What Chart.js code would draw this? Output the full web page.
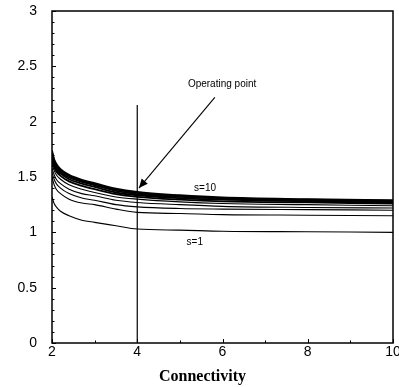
<!DOCTYPE html>
<html>
<head>
<meta charset="utf-8">
<script src="https://cdn.jsdelivr.net/npm/chart.js@4/dist/chart.umd.min.js"></script>
<style>
    html, body { margin: 0; padding: 0; background: #fff; overflow: hidden; }
    #wrap { width: 410px; height: 387px; }
</style>
</head>
<body>
<div id="wrap"><canvas id="grafico" width="410" height="387"></canvas></div>
<script>
// connectivity values along the x axis
var connectivity = [2, 2.05, 2.1, 2.2, 2.4, 2.7, 3, 3.5, 4, 5, 6, 8, 10];

// one curve per s
var s1  = [1.32, 1.26, 1.23, 1.19, 1.15, 1.11, 1.09, 1.06, 1.03, 1.02, 1.01, 1.005, 1.00];
var s2  = [1.50, 1.43, 1.39, 1.35, 1.30, 1.265, 1.25, 1.21, 1.18, 1.17, 1.16, 1.155, 1.15];
var s3  = [1.54, 1.48, 1.44, 1.40, 1.35, 1.31, 1.29, 1.25, 1.23, 1.215, 1.21, 1.205, 1.20];
var s4  = [1.58, 1.52, 1.48, 1.44, 1.39, 1.35, 1.33, 1.29, 1.27, 1.25, 1.235, 1.225, 1.22];
var s5  = [1.62, 1.56, 1.52, 1.48, 1.43, 1.39, 1.36, 1.32, 1.30, 1.275, 1.26, 1.25, 1.24];
var s6  = [1.66, 1.59, 1.55, 1.51, 1.46, 1.42, 1.39, 1.345, 1.32, 1.295, 1.28, 1.27, 1.26];
var s7  = [1.68, 1.61, 1.57, 1.53, 1.48, 1.44, 1.41, 1.36, 1.335, 1.31, 1.295, 1.28, 1.27];
var s8  = [1.70, 1.63, 1.59, 1.545, 1.495, 1.455, 1.425, 1.375, 1.345, 1.32, 1.305, 1.29, 1.28];
var s9  = [1.72, 1.65, 1.605, 1.56, 1.51, 1.465, 1.435, 1.385, 1.355, 1.33, 1.31, 1.295, 1.285];
var s10 = [1.74, 1.66, 1.62, 1.57, 1.52, 1.475, 1.445, 1.395, 1.365, 1.335, 1.315, 1.30, 1.29];

// operating point marker and annotations
var operatingX = [4, 4];
var operatingY = [0, 2.15];
var arrowX = [5.82, 4.04];
var arrowY = [2.22, 1.40];
var labelTexts = ['Operating point', 's=10', 's=1'];
var labelX = [5.99, 5.59, 5.35];
var labelY = [2.34, 1.40, 0.91];

var xTitle = 'Connectivity';

function puntos(xs, ys) {
    return xs.map((x, i) => ({ x: x, y: ys[i] }));
}

var curvas = [s1, s2, s3, s4, s5, s6, s7, s8, s9, s10];
var datasets = curvas.map((serie, i) => ({
    label: 's=' + (i + 1),
    data: puntos(connectivity, serie),
    borderColor: '#000',
    borderWidth: i >= 5 ? 1.8 : 1.1,
    pointRadius: 0,
    cubicInterpolationMode: 'monotone',
    fill: false
}));

datasets.push({
    label: 'operating',
    data: puntos(operatingX, operatingY),
    borderColor: '#000',
    borderWidth: 1.2,
    pointRadius: 0,
    fill: false
});
datasets.push({
    label: 'arrow',
    data: puntos(arrowX, arrowY),
    borderColor: '#000',
    borderWidth: 1.1,
    pointRadius: 0,
    fill: false
});

var adornos = {
    id: 'adornos',
    afterDraw(chart) {
        var ctx = chart.ctx;
        var a = chart.chartArea;
        var xs = chart.scales.x;
        var ys = chart.scales.y;
        ctx.save();
        ctx.strokeStyle = '#000';
        ctx.fillStyle = '#000';

        // box
        ctx.lineWidth = 1.5;
        ctx.strokeRect(a.left, a.top, a.right - a.left, a.bottom - a.top);

        // inward ticks
        ctx.lineWidth = 1;
        for (var v = 2; v <= 10.001; v += 1) {
            var px = Math.round(xs.getPixelForValue(v)) + 0.5;
            var len = (Math.round(v) % 2 === 0) ? 4 : 2.5;
            ctx.beginPath();
            ctx.moveTo(px, a.bottom);
            ctx.lineTo(px, a.bottom - len);
            ctx.stroke();
        }
        for (var k = 0; k <= 30; k++) {
            var py = Math.round(ys.getPixelForValue(k / 10)) + 0.5;
            var l = (k % 5 === 0) ? 4 : 2.5;
            ctx.beginPath();
            ctx.moveTo(a.left, py);
            ctx.lineTo(a.left + l, py);
            ctx.stroke();
        }

        // arrow head
        var meta = chart.getDatasetMeta(chart.data.datasets.length - 1);
        var p0 = meta.data[0], p1 = meta.data[1];
        var ang = Math.atan2(p1.y - p0.y, p1.x - p0.x);
        var h = 9, w = 4;
        ctx.beginPath();
        ctx.moveTo(p1.x, p1.y);
        ctx.lineTo(p1.x - h * Math.cos(ang) + w * Math.sin(ang), p1.y - h * Math.sin(ang) - w * Math.cos(ang));
        ctx.lineTo(p1.x - h * Math.cos(ang) - w * Math.sin(ang), p1.y - h * Math.sin(ang) + w * Math.cos(ang));
        ctx.closePath();
        ctx.fill();

        // text labels
        ctx.font = '10px "Liberation Sans", Arial, sans-serif';
        ctx.textAlign = 'center';
        ctx.textBaseline = 'middle';
        labelTexts.forEach((t, i) => {
            ctx.fillText(t, xs.getPixelForValue(labelX[i]), ys.getPixelForValue(labelY[i]));
        });

        // axis title
        ctx.font = 'bold 16px "Liberation Serif", "Times New Roman", serif';
        ctx.fillText(xTitle, (a.left + a.right) / 2 - 20, 377);
        ctx.restore();
    }
};

var ctxLine = document.getElementById('grafico').getContext('2d');
new Chart(ctxLine, {
    type: 'line',
    data: { datasets: datasets },
    options: {
        responsive: false,
        animation: false,
        layout: { autoPadding: false, padding: { left: 0, right: 17, top: 11, bottom: 0 } },
        plugins: {
            legend: { display: false },
            tooltip: { enabled: false }
        },
        scales: {
            x: {
                type: 'linear',
                min: 2,
                max: 10,
                grid: { display: false, drawTicks: false, tickLength: 0 },
                border: { display: false },
                ticks: {
                    stepSize: 2,
                    padding: 1,
                    color: '#000',
                    maxRotation: 0,
                    font: { family: '"Liberation Sans", Arial, sans-serif', size: 14 }
                },
                afterFit(scale) {
                    scale.height = 44;
                    scale.paddingLeft = 0;
                    scale.paddingRight = 0;
                }
            },
            y: {
                min: 0,
                max: 3,
                grid: { display: false, drawTicks: false, tickLength: 0 },
                border: { display: false },
                ticks: {
                    stepSize: 0.5,
                    padding: 15,
                    color: '#000',
                    font: { family: '"Liberation Sans", Arial, sans-serif', size: 14 },
                    callback: (value) => String(Number(value.toFixed(2)))
                },
                afterFit(scale) {
                    scale.width = 52;
                    scale.paddingTop = 0;
                    scale.paddingBottom = 0;
                }
            }
        }
    },
    plugins: [adornos]
});
</script>
</body>
</html>
